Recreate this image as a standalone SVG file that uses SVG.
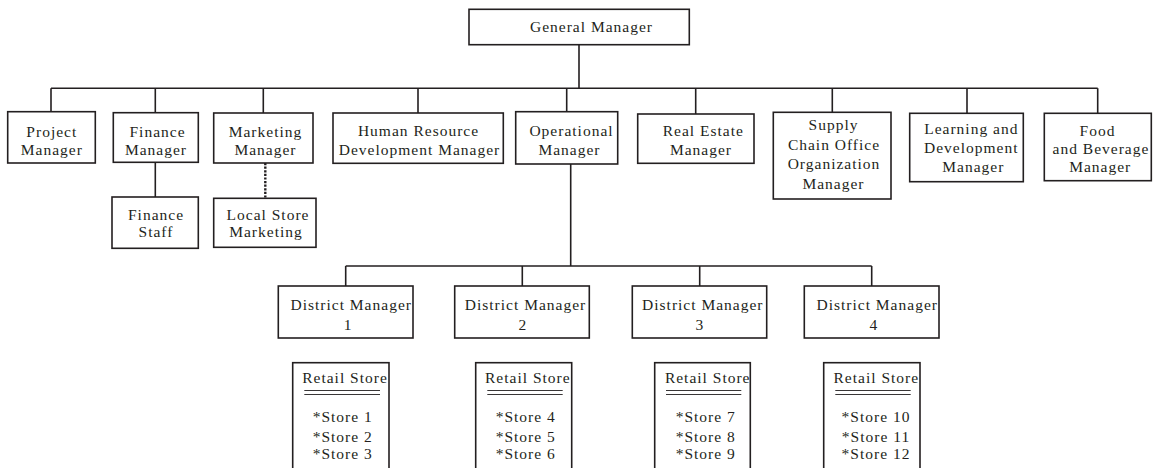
<svg xmlns="http://www.w3.org/2000/svg" width="1153" height="468" viewBox="0 0 1153 468">
<style>
  .box { fill: #ffffff; stroke: #231f20; stroke-width: 1.6; }
  .ln { fill: none; stroke: #231f20; stroke-width: 1.6; }
  .dot { fill: none; stroke: #231f20; stroke-width: 2.4; stroke-dasharray: 2.2 1.4; }
  .dbl { fill: none; stroke: #231f20; stroke-width: 0.9; }
  text { font-family: "Liberation Serif", "Times New Roman", serif; font-size: 15.5px; letter-spacing: 1px; fill: #231f20; text-anchor: middle; }
</style>
<rect width="1153" height="468" fill="#ffffff"/>

<g id="connectors">
  <path class="ln" d="M579 44.7 V88.3 M51 88.3 H1097.7"/>
  <path class="ln" d="M51 88.3 V112 M155.3 88.3 V113 M263.3 88.3 V113 M418 88.3 V113 M566.7 88.3 V112 M695.7 88.3 V114 M832.3 88.3 V112 M967 88.3 V113 M1097.7 88.3 V113"/>
  <path class="ln" d="M155.3 162.3 V197"/>
  <path class="dot" d="M265.3 163 V198"/>
  <path class="ln" d="M570.7 164 V266 M345.7 266 H871.7 M345.7 266 V286 M522.3 266 V286 M699.7 266 V286 M871.7 266 V286"/>
</g>

<g id="general-manager">
  <rect class="box" x="469" y="9.3" width="220.3" height="35.4"/>
  <text x="591.5" y="32">General Manager</text>
</g>

<g id="project-manager">
  <rect class="box" x="7.7" y="111.7" width="87.6" height="51.3"/>
  <text x="51.8" y="136.7">Project</text>
  <text x="51.8" y="155">Manager</text>
</g>

<g id="finance-manager">
  <rect class="box" x="113.3" y="112.7" width="85" height="49.6"/>
  <text x="157.5" y="136.7">Finance</text>
  <text x="156" y="155">Manager</text>
</g>

<g id="marketing-manager">
  <rect class="box" x="213.7" y="113" width="99.3" height="50"/>
  <text x="265.5" y="136.7">Marketing</text>
  <text x="265.5" y="155">Manager</text>
</g>

<g id="finance-staff">
  <rect class="box" x="112" y="197" width="86.3" height="51.3"/>
  <text x="156" y="219.5">Finance</text>
  <text x="156" y="237">Staff</text>
</g>

<g id="local-store-marketing">
  <rect class="box" x="213.7" y="198.3" width="102.3" height="49"/>
  <text x="268" y="219.5">Local Store</text>
  <text x="266" y="237">Marketing</text>
</g>

<g id="hr-manager">
  <rect class="box" x="333" y="113" width="170.3" height="50.3"/>
  <text x="418.5" y="136.3">Human Resource</text>
  <text x="419.5" y="155">Development Manager</text>
</g>

<g id="operational-manager">
  <rect class="box" x="515.7" y="111.7" width="102" height="52.3"/>
  <text x="571.5" y="136.3">Operational</text>
  <text x="569.5" y="155">Manager</text>
</g>

<g id="real-estate-manager">
  <rect class="box" x="637.7" y="114" width="116.3" height="49.3"/>
  <text x="703.3" y="136.3">Real Estate</text>
  <text x="701" y="155">Manager</text>
</g>

<g id="supply-chain-manager">
  <rect class="box" x="773.3" y="112.3" width="117.7" height="86.7"/>
  <text x="833.5" y="130">Supply</text>
  <text x="834" y="149.5">Chain Office</text>
  <text x="834" y="169.3">Organization</text>
  <text x="833.5" y="189.3">Manager</text>
</g>

<g id="learning-manager">
  <rect class="box" x="909.7" y="113.3" width="113.6" height="68.4"/>
  <text x="971.3" y="133.5">Learning and</text>
  <text x="971.3" y="152.7">Development</text>
  <text x="973.3" y="171.7">Manager</text>
</g>

<g id="food-beverage-manager">
  <rect class="box" x="1044.3" y="113.3" width="107" height="67.4"/>
  <text x="1097.5" y="135.7">Food</text>
  <text x="1101" y="154">and Beverage</text>
  <text x="1100.2" y="171.5">Manager</text>
</g>

<g id="district-manager-1">
  <rect class="box" x="278.3" y="286" width="134.7" height="52"/>
  <text x="351.2" y="310">District Manager</text>
  <text x="348.2" y="330">1</text>
</g>

<g id="district-manager-2">
  <rect class="box" x="454.7" y="286" width="134.6" height="52"/>
  <text x="525.5" y="310">District Manager</text>
  <text x="522.8" y="330">2</text>
</g>

<g id="district-manager-3">
  <rect class="box" x="632.3" y="286" width="134.4" height="52"/>
  <text x="702.8" y="310">District Manager</text>
  <text x="699.8" y="330">3</text>
</g>

<g id="district-manager-4">
  <rect class="box" x="804.3" y="286" width="134.7" height="52"/>
  <text x="877.2" y="310">District Manager</text>
  <text x="873.8" y="330">4</text>
</g>

<g id="retail-store-1">
  <rect class="box" x="292.7" y="362.7" width="96.3" height="130"/>
  <text x="345" y="383.3">Retail Store</text>
  <path class="dbl" d="M304.3 390.5 H380 M304.3 394.5 H380"/>
  <text x="342.7" y="422">*Store 1</text>
  <text x="342.7" y="441.5">*Store 2</text>
  <text x="342.7" y="459">*Store 3</text>
</g>

<g id="retail-store-2">
  <rect class="box" x="475.7" y="362.7" width="96" height="130"/>
  <text x="527.8" y="383.3">Retail Store</text>
  <path class="dbl" d="M487.3 390.5 H562.7 M487.3 394.5 H562.7"/>
  <text x="525.7" y="422">*Store 4</text>
  <text x="525.7" y="441.5">*Store 5</text>
  <text x="525.7" y="459">*Store 6</text>
</g>

<g id="retail-store-3">
  <rect class="box" x="654.7" y="362.7" width="95.6" height="130"/>
  <text x="707.7" y="383.3">Retail Store</text>
  <path class="dbl" d="M666 390.5 H741.3 M666 394.5 H741.3"/>
  <text x="705.7" y="422">*Store 7</text>
  <text x="705.7" y="441.5">*Store 8</text>
  <text x="705.7" y="459">*Store 9</text>
</g>

<g id="retail-store-4">
  <rect class="box" x="823.7" y="362.7" width="96.3" height="130"/>
  <text x="876.3" y="383.3">Retail Store</text>
  <path class="dbl" d="M835.3 390.5 H910.7 M835.3 394.5 H910.7"/>
  <text x="876" y="422">*Store 10</text>
  <text x="876" y="441.5">*Store 11</text>
  <text x="876" y="459">*Store 12</text>
</g>
</svg>
